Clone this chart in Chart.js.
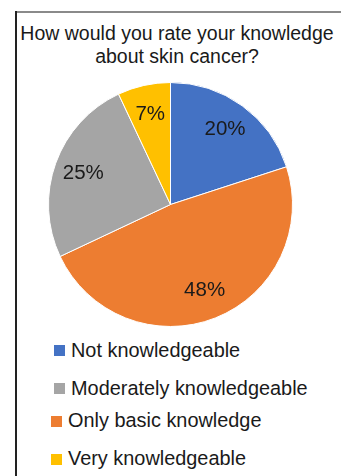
<!DOCTYPE html>
<html>
<head>
<meta charset="utf-8">
<script src="https://cdn.jsdelivr.net/npm/chart.js@4.4.1/dist/chart.umd.min.js"></script>
<style>
  html, body { margin: 0; padding: 0; background: #ffffff; }
  body { width: 341px; height: 476px; position: relative; overflow: hidden;
         font-family: "Liberation Sans", Arial, sans-serif; color: #1a1a1a; }
  #frameTop { position: absolute; left: 15px; top: 11px; width: 326px; height: 0;
              border-top: 2px solid #8a8a8a; }
  #frameLeft { position: absolute; left: 15px; top: 11px; width: 0; height: 465px;
               border-left: 2px solid #222222; }
  #title { position: absolute; left: 17px; width: 320px; top: 22px;
           font-size: 19.5px; line-height: 23px; text-align: center; white-space: nowrap; }
  #pieBox { position: absolute; left: 48px; top: 82px; width: 245px; height: 245px; }
  .legItem { position: absolute; font-size: 19.9px; line-height: 20px; white-space: nowrap; }
  .legSwatch { position: absolute; width: 11px; height: 11px; }
</style>
</head>
<body>
<div id="frameTop"></div>
<div id="frameLeft"></div>
<div id="title"></div>
<div id="pieBox"><canvas id="pie"></canvas></div>
<div id="legend"></div>
<script>
// Survey answers, in the order the slices run clockwise from 12 o'clock
const titleLines = ['How would you rate your knowledge', 'about skin cancer?'];
const categories = ['Not knowledgeable', 'Only basic knowledge', 'Moderately knowledgeable', 'Very knowledgeable'];
const percentages = [20, 48, 25, 7];
const sliceColors = ['#4472C4', '#ED7D31', '#A5A5A5', '#FFC000'];
// Order in which the key lists the answers
const legendOrder = ['Not knowledgeable', 'Moderately knowledgeable', 'Only basic knowledge', 'Very knowledgeable'];

document.getElementById('title').innerHTML = titleLines.join('<br>');

// Key rows: swatch box and text baseline for each row
const legendRows = [
  { sx: 54, sy: 345, tx: 71, base: 357 },
  { sx: 54, sy: 383, tx: 71, base: 395 },
  { sx: 51, sy: 416, tx: 68, base: 427 },
  { sx: 51, sy: 454, tx: 68, base: 465 }
];
const legendEl = document.getElementById('legend');
legendOrder.forEach((name, i) => {
  const row = legendRows[i];
  const idx = categories.indexOf(name);
  const sw = document.createElement('div');
  sw.className = 'legSwatch';
  sw.style.left = row.sx + 'px';
  sw.style.top = row.sy + 'px';
  sw.style.background = sliceColors[idx];
  legendEl.appendChild(sw);
  const tx = document.createElement('div');
  tx.className = 'legItem';
  tx.style.left = row.tx + 'px';
  tx.style.top = (row.base - 16.8) + 'px';
  tx.textContent = name;
  legendEl.appendChild(tx);
});

// Percentage labels placed inside each slice, along its middle angle
const sliceLabels = {
  id: 'sliceLabels',
  afterDatasetsDraw(chart) {
    const ctx = chart.ctx;
    const meta = chart.getDatasetMeta(0);
    ctx.save();
    ctx.font = '20.5px "Liberation Sans", Arial, sans-serif';
    ctx.fillStyle = '#1a1a1a';
    ctx.textAlign = 'center';
    ctx.textBaseline = 'middle';
    meta.data.forEach((arc, i) => {
      const p = arc.getProps(['x', 'y', 'startAngle', 'endAngle', 'outerRadius'], true);
      const mid = (p.startAngle + p.endAngle) / 2;
      const r = p.outerRadius * 0.76;
      ctx.fillText(percentages[i] + '%', p.x + Math.cos(mid) * r, p.y + Math.sin(mid) * r);
    });
    ctx.restore();
  }
};

new Chart(document.getElementById('pie'), {
  type: 'pie',
  data: {
    labels: categories,
    datasets: [{
      data: percentages,
      backgroundColor: sliceColors,
      borderColor: '#ffffff',
      borderWidth: 1
    }]
  },
  options: {
    responsive: true,
    maintainAspectRatio: false,
    animation: false,
    layout: { padding: 0 },
    plugins: {
      legend: { display: false },
      title: { display: false },
      tooltip: { enabled: false }
    }
  },
  plugins: [sliceLabels]
});
</script>
</body>
</html>
